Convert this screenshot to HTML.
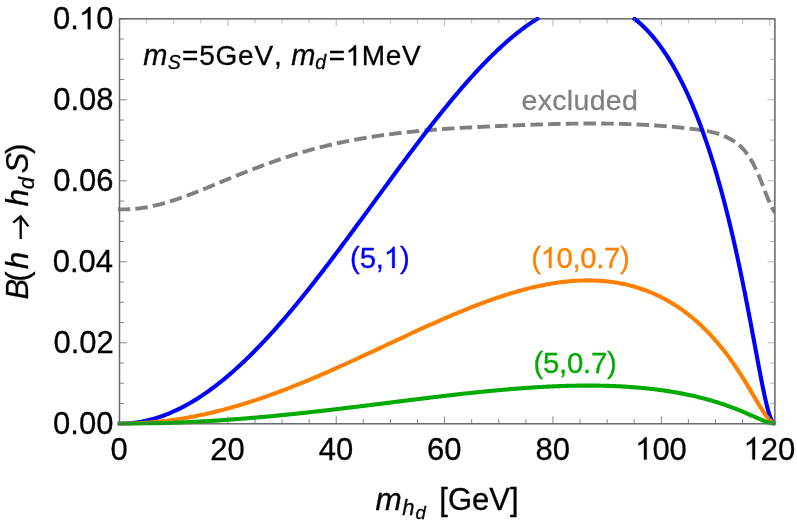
<!DOCTYPE html>
<html><head><meta charset="utf-8"><title>plot</title>
<style>
html,body{margin:0;padding:0;background:#fff;}
svg{display:block;font-family:"Liberation Sans",sans-serif;}
</style></head><body>
<svg width="797" height="527" viewBox="0 0 797 527">
<rect width="797" height="527" fill="#fff"/>
<defs><clipPath id="c"><rect x="117.65" y="16.95" width="657.75" height="408.65"/></clipPath></defs>
<g stroke="#666" stroke-width="1.35" fill="none">
<rect x="119.5" y="18.8" width="655.35" height="404.95"/>
</g>
<g clip-path="url(#c)">
<path d="M117.70,209.30 L119.50,209.30 L120.59,209.34 L121.69,209.36 L122.78,209.38 L123.88,209.38 L124.97,209.37 L126.07,209.36 L127.16,209.33 L128.26,209.29 L129.35,209.24 L130.45,209.19 L131.54,209.12 L132.64,209.04 L133.73,208.95 L134.83,208.86 L135.92,208.75 L137.02,208.64 L138.11,208.51 L139.21,208.38 L140.30,208.24 L141.40,208.09 L142.49,207.93 L143.59,207.76 L144.68,207.58 L145.78,207.40 L146.87,207.21 L147.97,207.00 L149.06,206.80 L150.16,206.58 L151.25,206.36 L152.35,206.13 L153.44,205.89 L154.54,205.64 L155.63,205.39 L156.73,205.13 L157.82,204.86 L158.92,204.59 L160.01,204.31 L161.11,204.02 L162.20,203.73 L163.30,203.43 L164.39,203.12 L165.49,202.81 L166.58,202.49 L167.68,202.17 L168.77,201.84 L169.87,201.51 L170.96,201.17 L172.06,200.82 L173.15,200.47 L174.25,200.12 L175.34,199.76 L176.44,199.39 L177.53,199.02 L178.63,198.65 L179.72,198.27 L180.81,197.89 L181.91,197.50 L183.00,197.11 L184.10,196.72 L185.19,196.32 L186.29,195.92 L187.38,195.51 L188.48,195.10 L189.57,194.69 L190.67,194.27 L191.76,193.86 L192.86,193.43 L193.95,193.01 L195.05,192.58 L196.14,192.15 L197.24,191.72 L198.33,191.29 L199.43,190.85 L200.52,190.41 L201.62,189.97 L202.71,189.53 L203.81,189.09 L204.90,188.64 L206.00,188.19 L207.09,187.75 L208.19,187.30 L209.28,186.85 L210.38,186.39 L211.47,185.94 L212.57,185.49 L213.66,185.04 L214.76,184.58 L215.85,184.13 L216.95,183.67 L218.04,183.22 L219.14,182.76 L220.23,182.31 L221.33,181.86 L222.42,181.40 L223.52,180.95 L224.61,180.50 L225.71,180.05 L226.80,179.60 L227.90,179.15 L228.99,178.70 L230.09,178.25 L231.18,177.80 L232.28,177.36 L233.37,176.91 L234.47,176.47 L235.56,176.03 L236.66,175.59 L237.75,175.15 L238.84,174.71 L239.94,174.27 L241.03,173.84 L242.13,173.40 L243.22,172.97 L244.32,172.54 L245.41,172.11 L246.51,171.68 L247.60,171.25 L248.70,170.82 L249.79,170.40 L250.89,169.98 L251.98,169.55 L253.08,169.13 L254.17,168.72 L255.27,168.30 L256.36,167.88 L257.46,167.47 L258.55,167.06 L259.65,166.65 L260.74,166.24 L261.84,165.83 L262.93,165.43 L264.03,165.03 L265.12,164.62 L266.22,164.22 L267.31,163.83 L268.41,163.43 L269.50,163.04 L270.60,162.65 L271.69,162.26 L272.79,161.87 L273.88,161.48 L274.98,161.10 L276.07,160.72 L277.17,160.34 L278.26,159.96 L279.36,159.58 L280.45,159.21 L281.55,158.84 L282.64,158.47 L283.74,158.10 L284.83,157.74 L285.93,157.38 L287.02,157.02 L288.12,156.66 L289.21,156.30 L290.31,155.95 L291.40,155.60 L292.50,155.25 L293.59,154.91 L294.69,154.56 L295.78,154.22 L296.88,153.88 L297.97,153.55 L299.06,153.22 L300.16,152.88 L301.25,152.56 L302.35,152.23 L303.44,151.91 L304.54,151.59 L305.63,151.27 L306.73,150.96 L307.82,150.65 L308.92,150.34 L310.01,150.03 L311.11,149.73 L312.20,149.43 L313.30,149.13 L314.39,148.83 L315.49,148.54 L316.58,148.25 L317.68,147.97 L318.77,147.68 L319.87,147.40 L320.96,147.12 L322.06,146.85 L323.15,146.57 L324.25,146.30 L325.34,146.03 L326.44,145.77 L327.53,145.50 L328.63,145.24 L329.72,144.98 L330.82,144.73 L331.91,144.47 L333.01,144.22 L334.10,143.98 L335.20,143.73 L336.29,143.49 L337.39,143.25 L338.48,143.01 L339.58,142.77 L340.67,142.54 L341.77,142.31 L342.86,142.08 L343.96,141.85 L345.05,141.62 L346.15,141.40 L347.24,141.18 L348.34,140.97 L349.43,140.75 L350.53,140.54 L351.62,140.33 L352.72,140.12 L353.81,139.91 L354.91,139.71 L356.00,139.50 L357.10,139.30 L358.19,139.11 L359.28,138.91 L360.38,138.72 L361.47,138.53 L362.57,138.34 L363.66,138.15 L364.76,137.96 L365.85,137.78 L366.95,137.60 L368.04,137.42 L369.14,137.24 L370.23,137.07 L371.33,136.89 L372.42,136.72 L373.52,136.55 L374.61,136.39 L375.71,136.22 L376.80,136.06 L377.90,135.89 L378.99,135.73 L380.09,135.58 L381.18,135.42 L382.28,135.26 L383.37,135.11 L384.47,134.96 L385.56,134.81 L386.66,134.66 L387.75,134.52 L388.85,134.37 L389.94,134.23 L391.04,134.09 L392.13,133.95 L393.23,133.81 L394.32,133.68 L395.42,133.55 L396.51,133.41 L397.61,133.28 L398.70,133.15 L399.80,133.02 L400.89,132.90 L401.99,132.77 L403.08,132.65 L404.18,132.53 L405.27,132.41 L406.37,132.29 L407.46,132.17 L408.56,132.06 L409.65,131.94 L410.75,131.83 L411.84,131.72 L412.94,131.61 L414.03,131.50 L415.13,131.39 L416.22,131.29 L417.32,131.18 L418.41,131.08 L419.50,130.98 L420.60,130.88 L421.69,130.78 L422.79,130.68 L423.88,130.58 L424.98,130.49 L426.07,130.39 L427.17,130.30 L428.26,130.21 L429.36,130.11 L430.45,130.02 L431.55,129.94 L432.64,129.85 L433.74,129.76 L434.83,129.68 L435.93,129.59 L437.02,129.51 L438.12,129.43 L439.21,129.35 L440.31,129.26 L441.40,129.19 L442.50,129.11 L443.59,129.03 L444.69,128.95 L445.78,128.88 L446.88,128.80 L447.97,128.73 L449.07,128.66 L450.16,128.59 L451.26,128.52 L452.35,128.45 L453.45,128.38 L454.54,128.31 L455.64,128.24 L456.73,128.17 L457.83,128.11 L458.92,128.04 L460.02,127.98 L461.11,127.91 L462.21,127.85 L463.30,127.79 L464.40,127.73 L465.49,127.67 L466.59,127.60 L467.68,127.55 L468.78,127.49 L469.87,127.43 L470.97,127.37 L472.06,127.31 L473.16,127.26 L474.25,127.20 L475.35,127.14 L476.44,127.09 L477.53,127.03 L478.63,126.98 L479.72,126.93 L480.82,126.87 L481.91,126.82 L483.01,126.77 L484.10,126.72 L485.20,126.66 L486.29,126.61 L487.39,126.56 L488.48,126.51 L489.58,126.46 L490.67,126.41 L491.77,126.36 L492.86,126.31 L493.96,126.26 L495.05,126.22 L496.15,126.17 L497.24,126.12 L498.34,126.07 L499.43,126.02 L500.53,125.98 L501.62,125.93 L502.72,125.88 L503.81,125.83 L504.91,125.79 L506.00,125.74 L507.10,125.70 L508.19,125.65 L509.29,125.60 L510.38,125.56 L511.48,125.51 L512.57,125.47 L513.67,125.42 L514.76,125.38 L515.86,125.33 L516.95,125.29 L518.05,125.24 L519.14,125.20 L520.24,125.16 L521.33,125.11 L522.43,125.07 L523.52,125.03 L524.62,124.99 L525.71,124.95 L526.81,124.90 L527.90,124.86 L529.00,124.82 L530.09,124.78 L531.19,124.74 L532.28,124.71 L533.38,124.67 L534.47,124.63 L535.57,124.59 L536.66,124.55 L537.75,124.52 L538.85,124.48 L539.94,124.44 L541.04,124.41 L542.13,124.37 L543.23,124.34 L544.32,124.31 L545.42,124.27 L546.51,124.24 L547.61,124.21 L548.70,124.18 L549.80,124.15 L550.89,124.12 L551.99,124.09 L553.08,124.06 L554.18,124.03 L555.27,124.00 L556.37,123.97 L557.46,123.95 L558.56,123.92 L559.65,123.90 L560.75,123.87 L561.84,123.85 L562.94,123.82 L564.03,123.80 L565.13,123.78 L566.22,123.76 L567.32,123.74 L568.41,123.72 L569.51,123.70 L570.60,123.68 L571.70,123.67 L572.79,123.65 L573.89,123.64 L574.98,123.62 L576.08,123.61 L577.17,123.59 L578.27,123.58 L579.36,123.57 L580.46,123.56 L581.55,123.55 L582.65,123.54 L583.74,123.53 L584.84,123.53 L585.93,123.52 L587.03,123.52 L588.12,123.51 L589.22,123.51 L590.31,123.51 L591.41,123.51 L592.50,123.51 L593.60,123.51 L594.69,123.51 L595.79,123.51 L596.88,123.52 L597.97,123.52 L599.07,123.53 L600.16,123.53 L601.26,123.54 L602.35,123.55 L603.45,123.56 L604.54,123.57 L605.64,123.58 L606.73,123.60 L607.83,123.61 L608.92,123.63 L610.02,123.64 L611.11,123.66 L612.21,123.68 L613.30,123.70 L614.40,123.72 L615.49,123.75 L616.59,123.77 L617.68,123.79 L618.78,123.82 L619.87,123.85 L620.97,123.88 L622.06,123.91 L623.16,123.94 L624.25,123.97 L625.35,124.00 L626.44,124.04 L627.54,124.08 L628.63,124.11 L629.73,124.15 L630.82,124.19 L631.92,124.23 L633.01,124.28 L634.11,124.32 L635.20,124.37 L636.30,124.41 L637.39,124.46 L638.49,124.51 L639.58,124.56 L640.68,124.62 L641.77,124.67 L642.87,124.73 L643.96,124.78 L645.06,124.84 L646.15,124.90 L647.25,124.96 L648.34,125.03 L649.44,125.09 L650.53,125.16 L651.63,125.22 L652.72,125.29 L653.82,125.36 L654.91,125.44 L656.01,125.51 L657.10,125.58 L658.19,125.66 L659.29,125.74 L660.38,125.82 L661.48,125.90 L662.57,125.98 L663.67,126.07 L664.76,126.16 L665.86,126.24 L666.95,126.33 L668.05,126.42 L669.14,126.52 L670.24,126.61 L671.33,126.71 L672.43,126.81 L673.52,126.91 L674.62,127.01 L675.71,127.11 L676.81,127.22 L677.90,127.32 L679.00,127.43 L680.09,127.54 L681.19,127.65 L682.28,127.77 L683.38,127.88 L684.47,128.00 L685.57,128.12 L686.66,128.24 L687.76,128.36 L688.85,128.49 L689.95,128.62 L691.04,128.75 L692.14,128.88 L693.23,129.01 L694.33,129.14 L695.42,129.28 L696.52,129.42 L697.61,129.56 L698.71,129.71 L699.80,129.86 L700.90,130.01 L701.99,130.18 L703.09,130.35 L704.18,130.53 L705.28,130.71 L706.37,130.91 L707.47,131.11 L708.56,131.33 L709.66,131.56 L710.75,131.80 L711.85,132.05 L712.94,132.32 L714.04,132.60 L715.13,132.90 L716.22,133.21 L717.32,133.54 L718.41,133.89 L719.51,134.25 L720.60,134.64 L721.70,135.04 L722.79,135.47 L723.89,135.91 L724.98,136.38 L726.08,136.87 L727.17,137.38 L728.27,137.92 L729.36,138.48 L730.46,139.07 L731.55,139.69 L732.65,140.34 L733.74,141.04 L734.84,141.77 L735.93,142.55 L737.03,143.37 L738.12,144.25 L739.22,145.19 L740.31,146.18 L741.41,147.24 L742.50,148.37 L743.60,149.57 L744.69,150.84 L745.79,152.19 L746.88,153.63 L747.98,155.15 L749.07,156.76 L750.17,158.46 L751.26,160.26 L752.36,162.16 L753.45,164.17 L754.55,166.28 L755.64,168.49 L756.74,170.81 L757.83,173.24 L758.93,175.77 L760.02,178.42 L761.12,181.17 L762.21,183.98 L763.31,186.84 L764.40,189.71 L765.50,192.56 L766.59,195.37 L767.69,198.10 L768.78,200.73 L769.88,203.23 L770.97,205.57 L772.07,207.72 L773.16,209.65 L774.26,211.34 L775.35,212.75" fill="none" stroke="#808080" stroke-width="3.9" stroke-dasharray="12.5 5.2" stroke-dashoffset="0"/>
<path d="M119.50,423.75 L120.59,423.74 L121.69,423.73 L122.78,423.70 L123.88,423.67 L124.97,423.62 L126.07,423.57 L127.16,423.50 L128.26,423.43 L129.35,423.34 L130.44,423.24 L131.54,423.14 L132.63,423.02 L133.73,422.89 L134.82,422.76 L135.92,422.61 L137.01,422.45 L138.11,422.29 L139.20,422.11 L140.29,421.92 L141.39,421.73 L142.48,421.52 L143.58,421.30 L144.67,421.08 L145.77,420.84 L146.86,420.59 L147.96,420.33 L149.05,420.07 L150.14,419.79 L151.24,419.50 L152.33,419.21 L153.43,418.90 L154.52,418.58 L155.62,418.26 L156.71,417.92 L157.81,417.57 L158.90,417.22 L159.99,416.85 L161.09,416.48 L162.18,416.09 L163.28,415.70 L164.37,415.29 L165.47,414.88 L166.56,414.45 L167.66,414.02 L168.75,413.57 L169.84,413.12 L170.94,412.66 L172.03,412.18 L173.13,411.70 L174.22,411.21 L175.32,410.71 L176.41,410.20 L177.51,409.68 L178.60,409.15 L179.69,408.61 L180.79,408.06 L181.88,407.50 L182.98,406.93 L184.07,406.36 L185.17,405.77 L186.26,405.17 L187.36,404.57 L188.45,403.95 L189.55,403.33 L190.64,402.70 L191.73,402.06 L192.83,401.41 L193.92,400.75 L195.02,400.08 L196.11,399.40 L197.21,398.71 L198.30,398.02 L199.40,397.31 L200.49,396.60 L201.58,395.88 L202.68,395.14 L203.77,394.40 L204.87,393.66 L205.96,392.90 L207.06,392.13 L208.15,391.36 L209.25,390.57 L210.34,389.78 L211.43,388.98 L212.53,388.17 L213.62,387.35 L214.72,386.53 L215.81,385.69 L216.91,384.85 L218.00,384.00 L219.10,383.14 L220.19,382.27 L221.28,381.39 L222.38,380.51 L223.47,379.62 L224.57,378.72 L225.66,377.81 L226.76,376.89 L227.85,375.97 L228.95,375.03 L230.04,374.09 L231.13,373.14 L232.23,372.19 L233.32,371.23 L234.42,370.25 L235.51,369.27 L236.61,368.29 L237.70,367.29 L238.80,366.29 L239.89,365.28 L240.98,364.27 L242.08,363.24 L243.17,362.21 L244.27,361.17 L245.36,360.13 L246.46,359.07 L247.55,358.01 L248.65,356.95 L249.74,355.87 L250.83,354.79 L251.93,353.70 L253.02,352.61 L254.12,351.50 L255.21,350.40 L256.31,349.28 L257.40,348.16 L258.50,347.03 L259.59,345.89 L260.68,344.75 L261.78,343.60 L262.87,342.45 L263.97,341.29 L265.06,340.12 L266.16,338.94 L267.25,337.76 L268.35,336.58 L269.44,335.38 L270.53,334.19 L271.63,332.98 L272.72,331.77 L273.82,330.55 L274.91,329.33 L276.01,328.10 L277.10,326.87 L278.20,325.63 L279.29,324.38 L280.38,323.13 L281.48,321.88 L282.57,320.61 L283.67,319.35 L284.76,318.07 L285.86,316.80 L286.95,315.51 L288.05,314.23 L289.14,312.93 L290.23,311.63 L291.33,310.33 L292.42,309.02 L293.52,307.71 L294.61,306.39 L295.71,305.07 L296.80,303.74 L297.90,302.41 L298.99,301.07 L300.08,299.73 L301.18,298.38 L302.27,297.03 L303.37,295.68 L304.46,294.32 L305.56,292.96 L306.65,291.59 L307.75,290.22 L308.84,288.84 L309.94,287.47 L311.03,286.08 L312.12,284.70 L313.22,283.30 L314.31,281.91 L315.41,280.51 L316.50,279.11 L317.60,277.70 L318.69,276.30 L319.79,274.88 L320.88,273.47 L321.97,272.05 L323.07,270.63 L324.16,269.20 L325.26,267.77 L326.35,266.34 L327.45,264.91 L328.54,263.47 L329.64,262.03 L330.73,260.59 L331.82,259.14 L332.92,257.70 L334.01,256.25 L335.11,254.79 L336.20,253.34 L337.30,251.88 L338.39,250.42 L339.49,248.96 L340.58,247.49 L341.67,246.03 L342.77,244.56 L343.86,243.09 L344.96,241.61 L346.05,240.14 L347.15,238.66 L348.24,237.18 L349.34,235.71 L350.43,234.22 L351.52,232.74 L352.62,231.26 L353.71,229.77 L354.81,228.29 L355.90,226.80 L357.00,225.31 L358.09,223.82 L359.19,222.33 L360.28,220.83 L361.37,219.34 L362.47,217.85 L363.56,216.35 L364.66,214.86 L365.75,213.36 L366.85,211.87 L367.94,210.37 L369.04,208.87 L370.13,207.37 L371.22,205.88 L372.32,204.38 L373.41,202.88 L374.51,201.38 L375.60,199.88 L376.70,198.38 L377.79,196.89 L378.89,195.39 L379.98,193.89 L381.07,192.39 L382.17,190.90 L383.26,189.40 L384.36,187.91 L385.45,186.41 L386.55,184.92 L387.64,183.42 L388.74,181.93 L389.83,180.44 L390.92,178.95 L392.02,177.46 L393.11,175.97 L394.21,174.48 L395.30,173.00 L396.40,171.51 L397.49,170.03 L398.59,168.55 L399.68,167.07 L400.77,165.59 L401.87,164.11 L402.96,162.63 L404.06,161.16 L405.15,159.69 L406.25,158.22 L407.34,156.75 L408.44,155.29 L409.53,153.83 L410.62,152.37 L411.72,150.91 L412.81,149.45 L413.91,148.00 L415.00,146.55 L416.10,145.10 L417.19,143.65 L418.29,142.21 L419.38,140.77 L420.47,139.34 L421.57,137.90 L422.66,136.47 L423.76,135.04 L424.85,133.62 L425.95,132.20 L427.04,130.78 L428.14,129.37 L429.23,127.96 L430.32,126.55 L431.42,125.15 L432.51,123.75 L433.61,122.35 L434.70,120.96 L435.80,119.57 L436.89,118.19 L437.99,116.81 L439.08,115.43 L440.18,114.06 L441.27,112.69 L442.36,111.33 L443.46,109.97 L444.55,108.62 L445.65,107.27 L446.74,105.93 L447.84,104.59 L448.93,103.26 L450.03,101.93 L451.12,100.60 L452.21,99.28 L453.31,97.97 L454.40,96.66 L455.50,95.36 L456.59,94.06 L457.69,92.77 L458.78,91.48 L459.88,90.20 L460.97,88.92 L462.06,87.66 L463.16,86.39 L464.25,85.13 L465.35,83.88 L466.44,82.64 L467.54,81.40 L468.63,80.16 L469.73,78.94 L470.82,77.72 L471.91,76.50 L473.01,75.30 L474.10,74.09 L475.20,72.90 L476.29,71.71 L477.39,70.53 L478.48,69.36 L479.58,68.19 L480.67,67.04 L481.76,65.88 L482.86,64.74 L483.95,63.60 L485.05,62.47 L486.14,61.35 L487.24,60.24 L488.33,59.13 L489.43,58.03 L490.52,56.94 L491.61,55.86 L492.71,54.78 L493.80,53.71 L494.90,52.66 L495.99,51.61 L497.09,50.56 L498.18,49.53 L499.28,48.50 L500.37,47.49 L501.46,46.48 L502.56,45.48 L503.65,44.49 L504.75,43.51 L505.84,42.54 L506.94,41.58 L508.03,40.62 L509.13,39.68 L510.22,38.74 L511.31,37.82 L512.41,36.90 L513.50,36.00 L514.60,35.10 L515.69,34.21 L516.79,33.34 L517.88,32.47 L518.98,31.61 L520.07,30.77 L521.16,29.93 L522.26,29.10 L523.35,28.29 L524.45,27.48 L525.54,26.69 L526.64,25.91 L527.73,25.13 L528.83,24.37 L529.92,23.62 L531.01,22.88 L532.11,22.15 L533.20,21.44 L534.30,20.73 L535.39,20.04 L536.49,19.35 L537.39,18.80 M634.50,18.80 L635.58,19.65 L636.67,20.54 L637.76,21.44 L638.85,22.37 L639.94,23.33 L641.03,24.31 L642.12,25.32 L643.21,26.35 L644.30,27.41 L645.39,28.50 L646.48,29.61 L647.57,30.75 L648.66,31.91 L649.75,33.11 L650.83,34.33 L651.92,35.58 L653.01,36.85 L654.10,38.16 L655.19,39.49 L656.27,40.85 L657.36,42.25 L658.45,43.67 L659.54,45.12 L660.62,46.60 L661.71,48.11 L662.80,49.66 L663.88,51.23 L664.97,52.84 L666.06,54.47 L667.14,56.14 L668.23,57.85 L669.31,59.58 L670.40,61.35 L671.49,63.15 L672.57,64.99 L673.66,66.86 L674.74,68.76 L675.83,70.70 L676.91,72.68 L678.00,74.69 L679.08,76.74 L680.16,78.82 L681.25,80.95 L682.33,83.10 L683.42,85.30 L684.50,87.54 L685.58,89.81 L686.67,92.13 L687.75,94.48 L688.83,96.88 L689.91,99.32 L691.00,101.79 L692.08,104.32 L693.16,106.88 L694.24,109.48 L695.32,112.13 L696.40,114.83 L697.48,117.57 L698.56,120.35 L699.65,123.18 L700.73,126.06 L701.81,128.98 L702.89,131.96 L703.96,134.98 L705.04,138.05 L706.12,141.17 L707.20,144.34 L708.28,147.56 L709.36,150.84 L710.44,154.16 L711.51,157.54 L712.59,160.98 L713.67,164.47 L714.75,168.01 L715.82,171.62 L716.90,175.27 L717.98,178.99 L719.05,182.77 L720.13,186.60 L721.20,190.50 L722.28,194.45 L723.35,198.47 L724.43,202.55 L725.50,206.70 L726.57,210.91 L727.65,215.18 L728.72,219.52 L729.79,223.92 L730.86,228.39 L731.94,232.93 L733.01,237.54 L734.08,242.21 L735.15,246.95 L736.22,251.76 L737.29,256.64 L738.36,261.58 L739.43,266.60 L740.50,271.68 L741.57,276.82 L742.64,282.04 L743.71,287.31 L744.78,292.65 L745.84,298.05 L746.91,303.51 L747.98,309.03 L749.04,314.59 L750.11,320.20 L751.18,325.85 L752.24,331.53 L753.31,337.25 L754.38,342.98 L755.44,348.71 L756.51,354.44 L757.58,360.16 L758.64,365.83 L759.71,371.46 L760.78,377.00 L761.84,382.44 L762.91,387.75 L763.98,392.89 L765.05,397.82 L766.12,402.50 L767.19,406.88 L768.27,410.89 L769.35,414.48 L770.43,417.58 L771.51,420.10 L772.59,422.00 L773.68,423.20" fill="none" stroke="#0000ff" stroke-width="4.1" stroke-linejoin="round" stroke-linecap="square"/>
<path d="M119.50,423.75 L120.59,423.75 L121.69,423.74 L122.78,423.74 L123.88,423.72 L124.97,423.71 L126.07,423.69 L127.16,423.67 L128.26,423.65 L129.35,423.62 L130.44,423.59 L131.54,423.56 L132.63,423.52 L133.73,423.48 L134.82,423.44 L135.92,423.39 L137.01,423.34 L138.11,423.29 L139.20,423.23 L140.29,423.17 L141.39,423.11 L142.48,423.04 L143.58,422.97 L144.67,422.90 L145.77,422.83 L146.86,422.75 L147.96,422.67 L149.05,422.58 L150.14,422.49 L151.24,422.40 L152.33,422.31 L153.43,422.21 L154.52,422.11 L155.62,422.01 L156.71,421.90 L157.81,421.79 L158.90,421.68 L159.99,421.56 L161.09,421.44 L162.18,421.32 L163.28,421.19 L164.37,421.07 L165.47,420.93 L166.56,420.80 L167.66,420.66 L168.75,420.52 L169.84,420.37 L170.94,420.23 L172.03,420.08 L173.13,419.92 L174.22,419.77 L175.32,419.61 L176.41,419.44 L177.51,419.28 L178.60,419.11 L179.69,418.94 L180.79,418.76 L181.88,418.59 L182.98,418.40 L184.07,418.22 L185.17,418.03 L186.26,417.84 L187.36,417.65 L188.45,417.46 L189.55,417.26 L190.64,417.05 L191.73,416.85 L192.83,416.64 L193.92,416.43 L195.02,416.22 L196.11,416.00 L197.21,415.78 L198.30,415.56 L199.40,415.33 L200.49,415.11 L201.58,414.87 L202.68,414.64 L203.77,414.40 L204.87,414.16 L205.96,413.92 L207.06,413.68 L208.15,413.43 L209.25,413.18 L210.34,412.92 L211.43,412.67 L212.53,412.41 L213.62,412.14 L214.72,411.88 L215.81,411.61 L216.91,411.34 L218.00,411.07 L219.10,410.79 L220.19,410.51 L221.28,410.23 L222.38,409.95 L223.47,409.66 L224.57,409.37 L225.66,409.08 L226.76,408.78 L227.85,408.49 L228.95,408.18 L230.04,407.88 L231.13,407.58 L232.23,407.27 L233.32,406.96 L234.42,406.64 L235.51,406.33 L236.61,406.01 L237.70,405.69 L238.80,405.37 L239.89,405.04 L240.98,404.71 L242.08,404.38 L243.17,404.05 L244.27,403.71 L245.36,403.37 L246.46,403.03 L247.55,402.69 L248.65,402.34 L249.74,401.99 L250.83,401.64 L251.93,401.29 L253.02,400.93 L254.12,400.58 L255.21,400.22 L256.31,399.85 L257.40,399.49 L258.50,399.12 L259.59,398.75 L260.68,398.38 L261.78,398.01 L262.87,397.63 L263.97,397.25 L265.06,396.87 L266.16,396.49 L267.25,396.11 L268.35,395.72 L269.44,395.33 L270.53,394.94 L271.63,394.55 L272.72,394.15 L273.82,393.75 L274.91,393.35 L276.01,392.95 L277.10,392.55 L278.20,392.14 L279.29,391.73 L280.38,391.32 L281.48,390.91 L282.57,390.50 L283.67,390.08 L284.76,389.67 L285.86,389.25 L286.95,388.82 L288.05,388.40 L289.14,387.98 L290.23,387.55 L291.33,387.12 L292.42,386.69 L293.52,386.26 L294.61,385.82 L295.71,385.39 L296.80,384.95 L297.90,384.51 L298.99,384.07 L300.08,383.63 L301.18,383.18 L302.27,382.74 L303.37,382.29 L304.46,381.84 L305.56,381.39 L306.65,380.93 L307.75,380.48 L308.84,380.03 L309.94,379.57 L311.03,379.11 L312.12,378.65 L313.22,378.19 L314.31,377.72 L315.41,377.26 L316.50,376.79 L317.60,376.33 L318.69,375.86 L319.79,375.39 L320.88,374.92 L321.97,374.44 L323.07,373.97 L324.16,373.49 L325.26,373.02 L326.35,372.54 L327.45,372.06 L328.54,371.58 L329.64,371.10 L330.73,370.62 L331.82,370.13 L332.92,369.65 L334.01,369.16 L335.11,368.67 L336.20,368.19 L337.30,367.70 L338.39,367.21 L339.49,366.72 L340.58,366.22 L341.67,365.73 L342.77,365.24 L343.86,364.74 L344.96,364.25 L346.05,363.75 L347.15,363.25 L348.24,362.75 L349.34,362.26 L350.43,361.76 L351.52,361.26 L352.62,360.75 L353.71,360.25 L354.81,359.75 L355.90,359.25 L357.00,358.74 L358.09,358.24 L359.19,357.73 L360.28,357.23 L361.37,356.72 L362.47,356.21 L363.56,355.71 L364.66,355.20 L365.75,354.69 L366.85,354.18 L367.94,353.67 L369.04,353.16 L370.13,352.65 L371.22,352.14 L372.32,351.63 L373.41,351.12 L374.51,350.61 L375.60,350.10 L376.70,349.58 L377.79,349.07 L378.89,348.56 L379.98,348.05 L381.07,347.54 L382.17,347.02 L383.26,346.51 L384.36,346.00 L385.45,345.49 L386.55,344.97 L387.64,344.46 L388.74,343.95 L389.83,343.43 L390.92,342.92 L392.02,342.41 L393.11,341.90 L394.21,341.39 L395.30,340.87 L396.40,340.36 L397.49,339.85 L398.59,339.34 L399.68,338.83 L400.77,338.32 L401.87,337.81 L402.96,337.30 L404.06,336.79 L405.15,336.28 L406.25,335.77 L407.34,335.26 L408.44,334.75 L409.53,334.25 L410.62,333.74 L411.72,333.23 L412.81,332.73 L413.91,332.22 L415.00,331.72 L416.10,331.22 L417.19,330.71 L418.29,330.21 L419.38,329.71 L420.47,329.21 L421.57,328.71 L422.66,328.21 L423.76,327.71 L424.85,327.21 L425.95,326.72 L427.04,326.22 L428.14,325.73 L429.23,325.23 L430.32,324.74 L431.42,324.25 L432.51,323.76 L433.61,323.27 L434.70,322.78 L435.80,322.30 L436.89,321.81 L437.99,321.33 L439.08,320.84 L440.18,320.36 L441.27,319.88 L442.36,319.40 L443.46,318.93 L444.55,318.45 L445.65,317.97 L446.74,317.50 L447.84,317.03 L448.93,316.56 L450.03,316.09 L451.12,315.62 L452.21,315.16 L453.31,314.69 L454.40,314.23 L455.50,313.77 L456.59,313.31 L457.69,312.85 L458.78,312.40 L459.88,311.94 L460.97,311.49 L462.06,311.04 L463.16,310.59 L464.25,310.15 L465.35,309.70 L466.44,309.26 L467.54,308.82 L468.63,308.38 L469.73,307.94 L470.82,307.51 L471.91,307.08 L473.01,306.65 L474.10,306.22 L475.20,305.80 L476.29,305.37 L477.39,304.95 L478.48,304.53 L479.58,304.12 L480.67,303.70 L481.76,303.29 L482.86,302.88 L483.95,302.48 L485.05,302.07 L486.14,301.67 L487.24,301.27 L488.33,300.88 L489.43,300.48 L490.52,300.09 L491.61,299.71 L492.71,299.32 L493.80,298.94 L494.90,298.56 L495.99,298.18 L497.09,297.81 L498.18,297.44 L499.28,297.07 L500.37,296.70 L501.46,296.34 L502.56,295.98 L503.65,295.63 L504.75,295.27 L505.84,294.93 L506.94,294.58 L508.03,294.24 L509.13,293.90 L510.22,293.56 L511.31,293.23 L512.41,292.90 L513.50,292.57 L514.60,292.25 L515.69,291.93 L516.79,291.61 L517.88,291.30 L518.98,290.99 L520.07,290.68 L521.16,290.38 L522.26,290.08 L523.35,289.79 L524.45,289.50 L525.54,289.21 L526.64,288.93 L527.73,288.65 L528.83,288.37 L529.92,288.10 L531.01,287.84 L532.11,287.57 L533.20,287.31 L534.30,287.06 L535.39,286.81 L536.49,286.56 L537.58,286.32 L538.68,286.08 L539.77,285.85 L540.86,285.62 L541.96,285.39 L543.05,285.17 L544.15,284.95 L545.24,284.74 L546.34,284.53 L547.43,284.33 L548.53,284.13 L549.62,283.94 L550.71,283.75 L551.81,283.56 L552.90,283.39 L554.00,283.21 L555.09,283.04 L556.19,282.88 L557.28,282.72 L558.38,282.56 L559.47,282.41 L560.56,282.27 L561.66,282.13 L562.75,281.99 L563.85,281.86 L564.94,281.74 L566.04,281.62 L567.13,281.50 L568.23,281.39 L569.32,281.29 L570.42,281.19 L571.51,281.10 L572.60,281.02 L573.70,280.93 L574.79,280.86 L575.89,280.79 L576.98,280.73 L578.08,280.67 L579.17,280.61 L580.27,280.57 L581.36,280.53 L582.45,280.49 L583.55,280.46 L584.64,280.44 L585.74,280.42 L586.83,280.41 L587.93,280.41 L589.02,280.41 L590.12,280.42 L591.21,280.44 L592.30,280.46 L593.40,280.48 L594.49,280.52 L595.59,280.56 L596.68,280.61 L597.78,280.66 L598.87,280.72 L599.97,280.79 L601.06,280.86 L602.15,280.94 L603.25,281.03 L604.34,281.13 L605.44,281.23 L606.53,281.34 L607.63,281.45 L608.72,281.58 L609.82,281.71 L610.91,281.85 L612.00,281.99 L613.10,282.14 L614.19,282.30 L615.29,282.47 L616.38,282.65 L617.48,282.83 L618.57,283.02 L619.67,283.22 L620.76,283.43 L621.85,283.64 L622.95,283.86 L624.04,284.09 L625.14,284.33 L626.23,284.58 L627.33,284.84 L628.42,285.10 L629.52,285.37 L630.61,285.65 L631.70,285.94 L632.80,286.24 L633.89,286.54 L634.99,286.86 L636.08,287.18 L637.18,287.51 L638.27,287.86 L639.37,288.21 L640.46,288.57 L641.55,288.93 L642.65,289.31 L643.74,289.70 L644.84,290.10 L645.93,290.50 L647.03,290.92 L648.12,291.34 L649.22,291.78 L650.31,292.22 L651.40,292.68 L652.50,293.14 L653.59,293.62 L654.69,294.10 L655.78,294.60 L656.88,295.11 L657.97,295.62 L659.07,296.15 L660.16,296.69 L661.25,297.23 L662.35,297.79 L663.44,298.36 L664.54,298.94 L665.63,299.54 L666.73,300.14 L667.82,300.75 L668.92,301.38 L670.01,302.02 L671.10,302.67 L672.20,303.33 L673.29,304.00 L674.39,304.69 L675.48,305.39 L676.58,306.09 L677.67,306.82 L678.77,307.55 L679.86,308.30 L680.95,309.06 L682.05,309.83 L683.14,310.62 L684.24,311.42 L685.33,312.23 L686.43,313.05 L687.52,313.89 L688.62,314.75 L689.71,315.61 L690.81,316.49 L691.90,317.39 L692.99,318.30 L694.09,319.22 L695.18,320.16 L696.28,321.11 L697.37,322.08 L698.47,323.07 L699.56,324.07 L700.66,325.08 L701.75,326.11 L702.84,327.16 L703.94,328.22 L705.03,329.29 L706.13,330.39 L707.22,331.50 L708.32,332.63 L709.41,333.77 L710.51,334.93 L711.60,336.11 L712.69,337.31 L713.79,338.52 L714.88,339.76 L715.98,341.01 L717.07,342.28 L718.17,343.56 L719.26,344.87 L720.36,346.20 L721.45,347.54 L722.54,348.90 L723.64,350.29 L724.73,351.69 L725.83,353.11 L726.92,354.55 L728.02,356.02 L729.11,357.50 L730.21,359.00 L731.30,360.52 L732.39,362.07 L733.49,363.63 L734.58,365.22 L735.68,366.82 L736.77,368.45 L737.87,370.09 L738.96,371.76 L740.06,373.45 L741.15,375.15 L742.24,376.88 L743.34,378.62 L744.43,380.38 L745.53,382.16 L746.62,383.95 L747.72,385.76 L748.81,387.58 L749.91,389.42 L751.00,391.26 L752.09,393.12 L753.19,394.98 L754.28,396.84 L755.38,398.70 L756.47,400.56 L757.57,402.41 L758.66,404.24 L759.76,406.06 L760.85,407.85 L761.94,409.60 L763.04,411.31 L764.13,412.97 L765.23,414.56 L766.32,416.07 L767.42,417.50 L768.51,418.81 L769.61,420.00 L770.70,421.05 L771.79,421.94 L772.89,422.66 L773.98,423.20 L775.08,423.54" fill="none" stroke="#ff8000" stroke-width="4.1" stroke-linejoin="round" stroke-linecap="square"/>
<path d="M119.50,423.75 L120.59,423.75 L121.69,423.75 L122.78,423.75 L123.88,423.74 L124.97,423.74 L126.07,423.74 L127.16,423.73 L128.26,423.72 L129.35,423.72 L130.44,423.71 L131.54,423.70 L132.63,423.69 L133.73,423.68 L134.82,423.67 L135.92,423.66 L137.01,423.64 L138.11,423.63 L139.20,423.62 L140.29,423.60 L141.39,423.58 L142.48,423.57 L143.58,423.55 L144.67,423.53 L145.77,423.51 L146.86,423.49 L147.96,423.47 L149.05,423.45 L150.14,423.42 L151.24,423.40 L152.33,423.38 L153.43,423.35 L154.52,423.32 L155.62,423.30 L156.71,423.27 L157.81,423.24 L158.90,423.21 L159.99,423.18 L161.09,423.15 L162.18,423.12 L163.28,423.09 L164.37,423.05 L165.47,423.02 L166.56,422.98 L167.66,422.95 L168.75,422.91 L169.84,422.87 L170.94,422.84 L172.03,422.80 L173.13,422.76 L174.22,422.72 L175.32,422.67 L176.41,422.63 L177.51,422.59 L178.60,422.54 L179.69,422.50 L180.79,422.45 L181.88,422.41 L182.98,422.36 L184.07,422.31 L185.17,422.27 L186.26,422.22 L187.36,422.17 L188.45,422.11 L189.55,422.06 L190.64,422.01 L191.73,421.96 L192.83,421.90 L193.92,421.85 L195.02,421.79 L196.11,421.74 L197.21,421.68 L198.30,421.62 L199.40,421.56 L200.49,421.50 L201.58,421.44 L202.68,421.38 L203.77,421.32 L204.87,421.26 L205.96,421.19 L207.06,421.13 L208.15,421.07 L209.25,421.00 L210.34,420.93 L211.43,420.87 L212.53,420.80 L213.62,420.73 L214.72,420.66 L215.81,420.59 L216.91,420.52 L218.00,420.45 L219.10,420.38 L220.19,420.31 L221.28,420.23 L222.38,420.16 L223.47,420.08 L224.57,420.01 L225.66,419.93 L226.76,419.86 L227.85,419.78 L228.95,419.70 L230.04,419.62 L231.13,419.54 L232.23,419.46 L233.32,419.38 L234.42,419.30 L235.51,419.21 L236.61,419.13 L237.70,419.05 L238.80,418.96 L239.89,418.88 L240.98,418.79 L242.08,418.71 L243.17,418.62 L244.27,418.53 L245.36,418.44 L246.46,418.35 L247.55,418.26 L248.65,418.17 L249.74,418.08 L250.83,417.99 L251.93,417.90 L253.02,417.80 L254.12,417.71 L255.21,417.62 L256.31,417.52 L257.40,417.43 L258.50,417.33 L259.59,417.23 L260.68,417.14 L261.78,417.04 L262.87,416.94 L263.97,416.84 L265.06,416.74 L266.16,416.64 L267.25,416.54 L268.35,416.44 L269.44,416.34 L270.53,416.23 L271.63,416.13 L272.72,416.03 L273.82,415.92 L274.91,415.82 L276.01,415.71 L277.10,415.61 L278.20,415.50 L279.29,415.39 L280.38,415.29 L281.48,415.18 L282.57,415.07 L283.67,414.96 L284.76,414.85 L285.86,414.74 L286.95,414.63 L288.05,414.52 L289.14,414.41 L290.23,414.29 L291.33,414.18 L292.42,414.07 L293.52,413.95 L294.61,413.84 L295.71,413.73 L296.80,413.61 L297.90,413.49 L298.99,413.38 L300.08,413.26 L301.18,413.15 L302.27,413.03 L303.37,412.91 L304.46,412.79 L305.56,412.67 L306.65,412.55 L307.75,412.43 L308.84,412.31 L309.94,412.19 L311.03,412.07 L312.12,411.95 L313.22,411.83 L314.31,411.71 L315.41,411.58 L316.50,411.46 L317.60,411.34 L318.69,411.21 L319.79,411.09 L320.88,410.97 L321.97,410.84 L323.07,410.72 L324.16,410.59 L325.26,410.46 L326.35,410.34 L327.45,410.21 L328.54,410.08 L329.64,409.96 L330.73,409.83 L331.82,409.70 L332.92,409.57 L334.01,409.44 L335.11,409.32 L336.20,409.19 L337.30,409.06 L338.39,408.93 L339.49,408.80 L340.58,408.67 L341.67,408.54 L342.77,408.41 L343.86,408.27 L344.96,408.14 L346.05,408.01 L347.15,407.88 L348.24,407.75 L349.34,407.61 L350.43,407.48 L351.52,407.35 L352.62,407.22 L353.71,407.08 L354.81,406.95 L355.90,406.82 L357.00,406.68 L358.09,406.55 L359.19,406.41 L360.28,406.28 L361.37,406.14 L362.47,406.01 L363.56,405.87 L364.66,405.74 L365.75,405.60 L366.85,405.47 L367.94,405.33 L369.04,405.20 L370.13,405.06 L371.22,404.93 L372.32,404.79 L373.41,404.65 L374.51,404.52 L375.60,404.38 L376.70,404.25 L377.79,404.11 L378.89,403.97 L379.98,403.84 L381.07,403.70 L382.17,403.56 L383.26,403.43 L384.36,403.29 L385.45,403.15 L386.55,403.02 L387.64,402.88 L388.74,402.74 L389.83,402.60 L390.92,402.47 L392.02,402.33 L393.11,402.19 L394.21,402.06 L395.30,401.92 L396.40,401.78 L397.49,401.65 L398.59,401.51 L399.68,401.37 L400.77,401.24 L401.87,401.10 L402.96,400.96 L404.06,400.83 L405.15,400.69 L406.25,400.55 L407.34,400.42 L408.44,400.28 L409.53,400.15 L410.62,400.01 L411.72,399.87 L412.81,399.74 L413.91,399.60 L415.00,399.47 L416.10,399.33 L417.19,399.20 L418.29,399.06 L419.38,398.93 L420.47,398.79 L421.57,398.66 L422.66,398.53 L423.76,398.39 L424.85,398.26 L425.95,398.13 L427.04,397.99 L428.14,397.86 L429.23,397.73 L430.32,397.59 L431.42,397.46 L432.51,397.33 L433.61,397.20 L434.70,397.07 L435.80,396.94 L436.89,396.81 L437.99,396.68 L439.08,396.55 L440.18,396.42 L441.27,396.29 L442.36,396.16 L443.46,396.03 L444.55,395.90 L445.65,395.77 L446.74,395.64 L447.84,395.52 L448.93,395.39 L450.03,395.26 L451.12,395.14 L452.21,395.01 L453.31,394.89 L454.40,394.76 L455.50,394.64 L456.59,394.51 L457.69,394.39 L458.78,394.27 L459.88,394.14 L460.97,394.02 L462.06,393.90 L463.16,393.78 L464.25,393.66 L465.35,393.54 L466.44,393.42 L467.54,393.30 L468.63,393.18 L469.73,393.06 L470.82,392.95 L471.91,392.83 L473.01,392.71 L474.10,392.60 L475.20,392.48 L476.29,392.37 L477.39,392.25 L478.48,392.14 L479.58,392.03 L480.67,391.92 L481.76,391.80 L482.86,391.69 L483.95,391.58 L485.05,391.47 L486.14,391.36 L487.24,391.26 L488.33,391.15 L489.43,391.04 L490.52,390.94 L491.61,390.83 L492.71,390.73 L493.80,390.62 L494.90,390.52 L495.99,390.42 L497.09,390.32 L498.18,390.22 L499.28,390.12 L500.37,390.02 L501.46,389.92 L502.56,389.82 L503.65,389.72 L504.75,389.63 L505.84,389.53 L506.94,389.44 L508.03,389.35 L509.13,389.25 L510.22,389.16 L511.31,389.07 L512.41,388.98 L513.50,388.89 L514.60,388.80 L515.69,388.72 L516.79,388.63 L517.88,388.55 L518.98,388.46 L520.07,388.38 L521.16,388.30 L522.26,388.22 L523.35,388.14 L524.45,388.06 L525.54,387.98 L526.64,387.90 L527.73,387.83 L528.83,387.75 L529.92,387.68 L531.01,387.60 L532.11,387.53 L533.20,387.46 L534.30,387.39 L535.39,387.32 L536.49,387.26 L537.58,387.19 L538.68,387.12 L539.77,387.06 L540.86,387.00 L541.96,386.94 L543.05,386.88 L544.15,386.82 L545.24,386.76 L546.34,386.70 L547.43,386.65 L548.53,386.59 L549.62,386.54 L550.71,386.49 L551.81,386.44 L552.90,386.39 L554.00,386.34 L555.09,386.30 L556.19,386.25 L557.28,386.21 L558.38,386.16 L559.47,386.12 L560.56,386.08 L561.66,386.05 L562.75,386.01 L563.85,385.97 L564.94,385.94 L566.04,385.91 L567.13,385.88 L568.23,385.85 L569.32,385.82 L570.42,385.79 L571.51,385.77 L572.60,385.74 L573.70,385.72 L574.79,385.70 L575.89,385.68 L576.98,385.66 L578.08,385.65 L579.17,385.63 L580.27,385.62 L581.36,385.61 L582.45,385.60 L583.55,385.59 L584.64,385.59 L585.74,385.58 L586.83,385.58 L587.93,385.58 L589.02,385.58 L590.12,385.58 L591.21,385.58 L592.30,385.59 L593.40,385.60 L594.49,385.61 L595.59,385.62 L596.68,385.63 L597.78,385.65 L598.87,385.66 L599.97,385.68 L601.06,385.70 L602.15,385.72 L603.25,385.75 L604.34,385.77 L605.44,385.80 L606.53,385.83 L607.63,385.86 L608.72,385.90 L609.82,385.93 L610.91,385.97 L612.00,386.01 L613.10,386.05 L614.19,386.09 L615.29,386.14 L616.38,386.19 L617.48,386.24 L618.57,386.29 L619.67,386.34 L620.76,386.40 L621.85,386.46 L622.95,386.52 L624.04,386.58 L625.14,386.65 L626.23,386.72 L627.33,386.79 L628.42,386.86 L629.52,386.93 L630.61,387.01 L631.70,387.09 L632.80,387.17 L633.89,387.25 L634.99,387.34 L636.08,387.42 L637.18,387.52 L638.27,387.61 L639.37,387.70 L640.46,387.80 L641.55,387.90 L642.65,388.01 L643.74,388.11 L644.84,388.22 L645.93,388.33 L647.03,388.44 L648.12,388.56 L649.22,388.68 L650.31,388.80 L651.40,388.92 L652.50,389.05 L653.59,389.18 L654.69,389.31 L655.78,389.44 L656.88,389.58 L657.97,389.72 L659.07,389.87 L660.16,390.01 L661.25,390.16 L662.35,390.31 L663.44,390.47 L664.54,390.62 L665.63,390.79 L666.73,390.95 L667.82,391.12 L668.92,391.29 L670.01,391.46 L671.10,391.63 L672.20,391.81 L673.29,392.00 L674.39,392.18 L675.48,392.37 L676.58,392.56 L677.67,392.76 L678.77,392.96 L679.86,393.16 L680.95,393.37 L682.05,393.57 L683.14,393.79 L684.24,394.00 L685.33,394.22 L686.43,394.44 L687.52,394.67 L688.62,394.90 L689.71,395.14 L690.81,395.37 L691.90,395.61 L692.99,395.86 L694.09,396.11 L695.18,396.36 L696.28,396.62 L697.37,396.88 L698.47,397.14 L699.56,397.41 L700.66,397.69 L701.75,397.96 L702.84,398.24 L703.94,398.53 L705.03,398.82 L706.13,399.11 L707.22,399.41 L708.32,399.71 L709.41,400.02 L710.51,400.33 L711.60,400.65 L712.69,400.97 L713.79,401.29 L714.88,401.62 L715.98,401.96 L717.07,402.30 L718.17,402.64 L719.26,402.99 L720.36,403.34 L721.45,403.70 L722.54,404.06 L723.64,404.43 L724.73,404.81 L725.83,405.18 L726.92,405.57 L728.02,405.96 L729.11,406.35 L730.21,406.75 L731.30,407.15 L732.39,407.56 L733.49,407.98 L734.58,408.40 L735.68,408.82 L736.77,409.26 L737.87,409.69 L738.96,410.13 L740.06,410.58 L741.15,411.03 L742.24,411.48 L743.34,411.94 L744.43,412.41 L745.53,412.88 L746.62,413.35 L747.72,413.82 L748.81,414.30 L749.91,414.79 L751.00,415.27 L752.09,415.76 L753.19,416.24 L754.28,416.73 L755.38,417.22 L756.47,417.71 L757.57,418.19 L758.66,418.67 L759.76,419.14 L760.85,419.61 L761.94,420.07 L763.04,420.51 L764.13,420.95 L765.23,421.36 L766.32,421.75 L767.42,422.13 L768.51,422.47 L769.61,422.78 L770.70,423.05 L771.79,423.28 L772.89,423.47 L773.98,423.61 L775.08,423.70" fill="none" stroke="#00aa00" stroke-width="4.1" stroke-linejoin="round" stroke-linecap="square"/>
</g>
<g stroke="#666" stroke-width="1.35" fill="none" opacity="0.45">
<rect x="119.5" y="18.8" width="655.35" height="404.95"/>
</g>
<g stroke="#666" stroke-width="0.8" fill="none"><path d="M119.50,423.75 v-7.3"/><path d="M146.59,423.75 v-4.6"/><path d="M173.68,423.75 v-4.6"/><path d="M200.77,423.75 v-4.6"/><path d="M227.86,423.75 v-7.3"/><path d="M254.95,423.75 v-4.6"/><path d="M282.04,423.75 v-4.6"/><path d="M309.13,423.75 v-4.6"/><path d="M336.22,423.75 v-7.3"/><path d="M363.31,423.75 v-4.6"/><path d="M390.40,423.75 v-4.6"/><path d="M417.49,423.75 v-4.6"/><path d="M444.58,423.75 v-7.3"/><path d="M471.67,423.75 v-4.6"/><path d="M498.76,423.75 v-4.6"/><path d="M525.85,423.75 v-4.6"/><path d="M552.94,423.75 v-7.3"/><path d="M580.03,423.75 v-4.6"/><path d="M607.12,423.75 v-4.6"/><path d="M634.21,423.75 v-4.6"/><path d="M661.30,423.75 v-7.3"/><path d="M688.39,423.75 v-4.6"/><path d="M715.48,423.75 v-4.6"/><path d="M742.57,423.75 v-4.6"/><path d="M769.66,423.75 v-7.3"/><path d="M119.5,423.75 h7.3"/><path d="M119.5,403.50 h4.6"/><path d="M119.5,383.25 h4.6"/><path d="M119.5,363.01 h4.6"/><path d="M119.5,342.76 h7.3"/><path d="M119.5,322.51 h4.6"/><path d="M119.5,302.26 h4.6"/><path d="M119.5,282.02 h4.6"/><path d="M119.5,261.77 h7.3"/><path d="M119.5,241.52 h4.6"/><path d="M119.5,221.27 h4.6"/><path d="M119.5,201.03 h4.6"/><path d="M119.5,180.78 h7.3"/><path d="M119.5,160.53 h4.6"/><path d="M119.5,140.28 h4.6"/><path d="M119.5,120.04 h4.6"/><path d="M119.5,99.79 h7.3"/><path d="M119.5,79.54 h4.6"/><path d="M119.5,59.30 h4.6"/><path d="M119.5,39.05 h4.6"/><path d="M119.5,18.80 h7.3"/></g>
<g stroke="#808080" stroke-width="0.55" fill="none"><path d="M119.50,18.8 v7.3"/><path d="M146.59,18.8 v4.6"/><path d="M173.68,18.8 v4.6"/><path d="M200.77,18.8 v4.6"/><path d="M227.86,18.8 v7.3"/><path d="M254.95,18.8 v4.6"/><path d="M282.04,18.8 v4.6"/><path d="M309.13,18.8 v4.6"/><path d="M336.22,18.8 v7.3"/><path d="M363.31,18.8 v4.6"/><path d="M390.40,18.8 v4.6"/><path d="M417.49,18.8 v4.6"/><path d="M444.58,18.8 v7.3"/><path d="M471.67,18.8 v4.6"/><path d="M498.76,18.8 v4.6"/><path d="M525.85,18.8 v4.6"/><path d="M552.94,18.8 v7.3"/><path d="M580.03,18.8 v4.6"/><path d="M607.12,18.8 v4.6"/><path d="M634.21,18.8 v4.6"/><path d="M661.30,18.8 v7.3"/><path d="M688.39,18.8 v4.6"/><path d="M715.48,18.8 v4.6"/><path d="M742.57,18.8 v4.6"/><path d="M769.66,18.8 v7.3"/><path d="M774.85,423.75 h-7.3"/><path d="M774.85,403.50 h-4.6"/><path d="M774.85,383.25 h-4.6"/><path d="M774.85,363.01 h-4.6"/><path d="M774.85,342.76 h-7.3"/><path d="M774.85,322.51 h-4.6"/><path d="M774.85,302.26 h-4.6"/><path d="M774.85,282.02 h-4.6"/><path d="M774.85,261.77 h-7.3"/><path d="M774.85,241.52 h-4.6"/><path d="M774.85,221.27 h-4.6"/><path d="M774.85,201.03 h-4.6"/><path d="M774.85,180.78 h-7.3"/><path d="M774.85,160.53 h-4.6"/><path d="M774.85,140.28 h-4.6"/><path d="M774.85,120.04 h-4.6"/><path d="M774.85,99.79 h-7.3"/><path d="M774.85,79.54 h-4.6"/><path d="M774.85,59.30 h-4.6"/><path d="M774.85,39.05 h-4.6"/><path d="M774.85,18.80 h-7.3"/></g>
<g fill="#000" style="font-kerning:none;will-change:transform;paint-order:stroke" stroke-width="0.3">
<text x="110.58" y="459.60" font-size="31" fill="#000" stroke="#000">0</text>
<text x="210.32" y="459.60" font-size="31" fill="#000" stroke="#000">20</text>
<text x="318.68" y="459.60" font-size="31" fill="#000" stroke="#000">40</text>
<text x="427.04" y="459.60" font-size="31" fill="#000" stroke="#000">60</text>
<text x="535.40" y="459.60" font-size="31" fill="#000" stroke="#000">80</text>
<path d="M646.69,459.60L643.96,459.60L643.96,442.24Q642.98,443.18 641.38,444.12Q639.79,445.05 638.51,445.52L638.51,442.89Q640.80,441.81 642.51,440.29Q644.22,438.76 644.93,437.32L646.69,437.32Z" fill="#000" stroke="#000"/>
<text x="652.38" y="459.60" font-size="31" fill="#000" stroke="#000">00</text>
<path d="M755.05,459.60L752.32,459.60L752.32,442.24Q751.34,443.18 749.74,444.12Q748.15,445.05 746.87,445.52L746.87,442.89Q749.16,441.81 750.87,440.29Q752.58,438.76 753.29,437.32L755.05,437.32Z" fill="#000" stroke="#000"/>
<text x="760.74" y="459.60" font-size="31" fill="#000" stroke="#000">20</text>
<text x="53.08" y="434.25" font-size="31" fill="#000" stroke="#000">0.00</text>
<text x="53.42" y="353.26" font-size="31" fill="#000" stroke="#000">0.02</text>
<text x="52.77" y="272.27" font-size="31" fill="#000" stroke="#000">0.04</text>
<text x="53.23" y="191.28" font-size="31" fill="#000" stroke="#000">0.06</text>
<text x="53.21" y="110.29" font-size="31" fill="#000" stroke="#000">0.08</text>
<text x="53.08" y="29.30" font-size="31" fill="#000" stroke="#000">0.</text>
<path d="M90.48,29.30L87.75,29.30L87.75,11.94Q86.77,12.88 85.17,13.82Q83.58,14.75 82.30,15.22L82.30,12.59Q84.59,11.51 86.30,9.99Q88.01,8.46 88.72,7.02L90.48,7.02Z" fill="#000" stroke="#000"/>
<text x="96.17" y="29.30" font-size="31" fill="#000" stroke="#000">0</text>
<text x="143.32" y="65.40" font-size="29" font-style="italic" fill="#000" stroke="#000">m</text>
<text x="167.75" y="68.80" font-size="19.5" font-style="italic" fill="#000" stroke="#000">S</text>
<text x="182.03" y="65.40" font-size="28" letter-spacing="0.790" fill="#000" stroke="#000">=5GeV,</text>
<text x="291.32" y="65.40" font-size="29" font-style="italic" fill="#000" stroke="#000">m</text>
<text x="315.24" y="68.70" font-size="19.5" font-style="italic" fill="#000" stroke="#000">d</text>
<text x="328.63" y="65.40" font-size="28" letter-spacing="0.649" fill="#000" stroke="#000">=</text>
<path d="M356.06,65.40L353.60,65.40L353.60,49.72Q352.71,50.57 351.27,51.41Q349.83,52.26 348.68,52.69L348.68,50.31Q350.75,49.34 352.29,47.95Q353.84,46.57 354.48,45.28L356.06,45.28Z" fill="#000" stroke="#000"/>
<text x="361.85" y="65.40" font-size="28" letter-spacing="0.649" fill="#000" stroke="#000">MeV</text>
<text x="375.48" y="509.80" font-size="31.5" font-style="italic" fill="#000" stroke="#000">m</text>
<text x="402.23" y="515.30" font-size="22" font-style="italic" fill="#000" stroke="#000">h</text>
<text x="415.38" y="519.20" font-size="18.5" font-style="italic" fill="#000" stroke="#000">d</text>
<text x="439.29" y="509.80" font-size="31" letter-spacing="-0.009" fill="#000" stroke="#000">[GeV]</text>
<g transform="translate(28.3,300) rotate(-90)">
<text x="0.55" y="0.00" font-size="31" font-style="italic" fill="#000" stroke="#000">B</text>
<text x="18.38" y="0.00" font-size="31" fill="#000" stroke="#000">(</text>
<text x="31.09" y="0.00" font-size="31" font-style="italic" fill="#000" stroke="#000">h</text>
<text x="93.69" y="0.00" font-size="31" font-style="italic" fill="#000" stroke="#000">h</text>
<text x="110.86" y="5.60" font-size="22" font-style="italic" fill="#000" stroke="#000">d</text>
<text x="126.82" y="0.00" font-size="31" font-style="italic" fill="#000" stroke="#000">S</text>
<text x="146.12" y="0.00" font-size="31" fill="#000" stroke="#000">)</text>
</g>
<path d="M20.7,239.1 L20.7,217.2 M13.3,222.7 L20.7,216.3 L28.4,226.4" fill="none" stroke="#000" stroke-width="2.3" stroke-linejoin="miter"/>
<text x="521.59" y="109.50" font-size="28.5" letter-spacing="0.309" fill="#808080" stroke="#808080">excluded</text>
<text x="350.08" y="267.90" font-size="29.3" letter-spacing="-0.153" fill="#0000ff" stroke="#0000ff">(5,</text>
<path d="M394.73,267.90L392.16,267.90L392.16,251.49Q391.23,252.38 389.72,253.26Q388.21,254.15 387.01,254.59L387.01,252.11Q389.17,251.09 390.78,249.64Q392.40,248.20 393.07,246.84L394.73,246.84Z" fill="#0000ff" stroke="#0000ff"/>
<text x="399.96" y="267.90" font-size="29.3" letter-spacing="-0.153" fill="#0000ff" stroke="#0000ff">)</text>
<text x="531.18" y="268.00" font-size="29.3" letter-spacing="-0.349" fill="#ff8000" stroke="#ff8000">(</text>
<path d="M551.51,268.00L548.93,268.00L548.93,251.59Q548.00,252.48 546.49,253.36Q544.98,254.25 543.78,254.69L543.78,252.21Q545.94,251.19 547.56,249.74Q549.18,248.30 549.85,246.94L551.51,246.94Z" fill="#ff8000" stroke="#ff8000"/>
<text x="556.54" y="268.00" font-size="29.3" letter-spacing="-0.349" fill="#ff8000" stroke="#ff8000">0,0.7)</text>
<text x="533.48" y="373.10" font-size="29.3" letter-spacing="-0.225" fill="#00aa00" stroke="#00aa00">(5,0.7)</text>
</g>
</svg>
</body></html>
